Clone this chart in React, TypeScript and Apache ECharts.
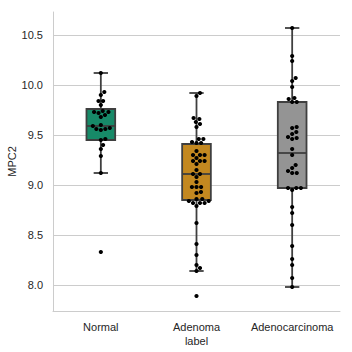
import React, { useEffect, useRef } from "react";
import * as echarts from "echarts";

const categories = ["Normal", "Adenoma", "Adenocarcinoma"];

const normalValues = [10.12, 9.93, 9.9, 9.84, 9.84, 9.8, 9.74, 9.73, 9.73, 9.72, 9.7, 9.68, 9.6, 9.59, 9.57, 9.56, 9.56, 9.55, 9.46, 9.45, 9.4, 9.36, 9.29, 9.12, 8.33];
const adenomaValues = [9.92, 9.89, 9.67, 9.66, 9.63, 9.61, 9.58, 9.46, 9.46, 9.43, 9.42, 9.42, 9.34, 9.3, 9.3, 9.3, 9.27, 9.24, 9.24, 9.24, 9.21, 9.15, 9.11, 9.11, 9.08, 9.03, 8.98, 8.98, 8.98, 8.93, 8.92, 8.86, 8.86, 8.84, 8.84, 8.82, 8.82, 8.82, 8.79, 8.62, 8.41, 8.3, 8.2, 8.17, 8.14, 7.89];
const adenocarcinomaValues = [10.57, 10.29, 10.24, 10.07, 10.04, 9.98, 9.87, 9.86, 9.83, 9.83, 9.58, 9.57, 9.53, 9.51, 9.48, 9.47, 9.46, 9.36, 9.3, 9.2, 9.17, 9.14, 9.12, 9.12, 8.97, 8.97, 8.97, 8.95, 8.78, 8.72, 8.6, 8.39, 8.26, 8.2, 8.07, 7.98];

// [min whisker, Q1, median, Q3, max whisker]
const boxStats = [
  [9.12, 9.45, 9.59, 9.76, 10.12],
  [8.14, 8.85, 9.11, 9.41, 9.92],
  [7.98, 8.97, 9.32, 9.83, 10.57],
];

const yTicks = [8.0, 8.5, 9.0, 9.5, 10.0, 10.5];
const boxColors = ["#178a68", "#c38820", "#949494"];

const Y_MIN = 7.74;
const Y_MAX = 10.73;
const GRID = { left: 53, right: 12, top: 12, bottom: 41 };
const W = 352;
const H = 352;

function swarm(values: number[], pxPerUnitY: number, dotD: number): number[] {
  const idx = values.map((v, i) => i).sort((a, b) => values[a] - values[b]);
  const placed: { x: number; y: number }[] = [];
  const offsets = new Array(values.length).fill(0);
  for (const i of idx) {
    const y = values[i] * pxPerUnitY;
    const neighbors = placed.filter((p) => Math.abs(p.y - y) < dotD);
    const cands: number[] = [0];
    for (const n of neighbors) {
      const dx = Math.sqrt(Math.max(dotD * dotD - (n.y - y) * (n.y - y), 0));
      cands.push(n.x + dx, n.x - dx);
    }
    cands.sort((a, b) => Math.abs(a) - Math.abs(b));
    let chosen = 0;
    for (const c of cands) {
      const ok = neighbors.every((n) => (n.x - c) ** 2 + (n.y - y) ** 2 >= dotD * dotD - 1e-6);
      if (ok) {
        chosen = c;
        break;
      }
    }
    placed.push({ x: chosen, y });
    offsets[i] = chosen;
  }
  return offsets;
}

export default function App() {
  const ref = useRef<HTMLDivElement>(null);
  useEffect(() => {
    if (!ref.current) return;
    const chart = echarts.init(ref.current, undefined, { renderer: "svg" });
    const plotH = H - GRID.top - GRID.bottom;
    const plotW = W - GRID.left - GRID.right;
    const pxPerUnitY = plotH / (Y_MAX - Y_MIN);
    const band = plotW / categories.length;
    const dotD = 4.6;

    const groups = [normalValues, adenomaValues, adenocarcinomaValues];
    const swarmData: number[][] = [];
    groups.forEach((vals, gi) => {
      const offs = swarm(vals, pxPerUnitY, dotD);
      vals.forEach((v, k) => swarmData.push([gi + offs[k] / band, v]));
    });

    const boxData = boxStats.map((s, i) => [i, ...s]);
    const lineColor = "#3f3f3f";
    const font = "Liberation Sans, Arial, sans-serif";

    chart.setOption({
      animation: false,
      grid: { ...GRID, containLabel: false, outerBoundsMode: "none" },
      xAxis: [
        {
          type: "category",
          data: categories,
          name: "label",
          nameLocation: "middle",
          nameGap: 24,
          nameMoveOverlap: false,
          nameTextStyle: { color: "#262626", fontSize: 11, fontFamily: font },
          axisLine: { show: true, onZero: false, lineStyle: { color: "#cccccc", width: 1 } },
          axisTick: { show: false },
          axisLabel: { color: "#262626", fontSize: 11, fontFamily: font, margin: 10, interval: 0 },
          splitLine: { show: false },
        },
        {
          type: "value",
          min: -0.5,
          max: 2.5,
          show: false,
          axisLine: { show: false },
          axisTick: { show: false },
          axisLabel: { show: false },
          splitLine: { show: false },
        },
      ],
      yAxis: {
        type: "value",
        min: Y_MIN,
        max: Y_MAX,
        name: "MPC2",
        nameLocation: "middle",
        nameGap: 36,
        nameMoveOverlap: false,
        nameTextStyle: { color: "#262626", fontSize: 11, fontFamily: font },
        axisLine: { show: true, onZero: false, lineStyle: { color: "#cccccc", width: 1 } },
        axisTick: { show: false, customValues: yTicks },
        axisLabel: {
          color: "#262626",
          fontSize: 11,
          fontFamily: font,
          margin: 10,
          customValues: yTicks,
          formatter: (v: number) => v.toFixed(1),
        },
        splitLine: { show: true, lineStyle: { color: "#cccccc", width: 1 } },
      },
      series: [
        {
          type: "custom",
          xAxisIndex: 0,
          yAxisIndex: 0,
          data: boxData,
          encode: { x: 0, y: [1, 2, 3, 4, 5] },
          renderItem: (params: any, api: any) => {
            const i = api.value(0);
            const lo = api.coord([i, api.value(1)]);
            const q1 = api.coord([i, api.value(2)]);
            const md = api.coord([i, api.value(3)]);
            const q3 = api.coord([i, api.value(4)]);
            const hi = api.coord([i, api.value(5)]);
            const bw = api.size([1, 0])[0];
            const boxW = bw * 0.3;
            const capW = boxW * 0.5;
            const cx = lo[0];
            const ls = { stroke: lineColor, lineWidth: 1.8 };
            return {
              type: "group",
              children: [
                { type: "line", shape: { x1: cx, y1: q3[1], x2: cx, y2: hi[1] }, style: ls },
                { type: "line", shape: { x1: cx, y1: q1[1], x2: cx, y2: lo[1] }, style: ls },
                { type: "line", shape: { x1: cx - capW / 2, y1: hi[1], x2: cx + capW / 2, y2: hi[1] }, style: ls },
                { type: "line", shape: { x1: cx - capW / 2, y1: lo[1], x2: cx + capW / 2, y2: lo[1] }, style: ls },
                {
                  type: "rect",
                  shape: { x: cx - boxW / 2, y: q3[1], width: boxW, height: q1[1] - q3[1] },
                  style: { fill: boxColors[i], stroke: lineColor, lineWidth: 1.8 },
                },
                { type: "line", shape: { x1: cx - boxW / 2, y1: md[1], x2: cx + boxW / 2, y2: md[1] }, style: ls },
              ],
            };
          },
          z: 2,
        },
        {
          type: "scatter",
          xAxisIndex: 1,
          yAxisIndex: 0,
          data: swarmData,
          symbol: "circle",
          symbolSize: 4.2,
          itemStyle: { color: "#000000", opacity: 1 },
          z: 5,
        },
      ],
    });
    return () => chart.dispose();
  }, []);
  return <div ref={ref} style={{ width: W, height: H, position: "absolute", left: 0, top: 0 }} />;
}
